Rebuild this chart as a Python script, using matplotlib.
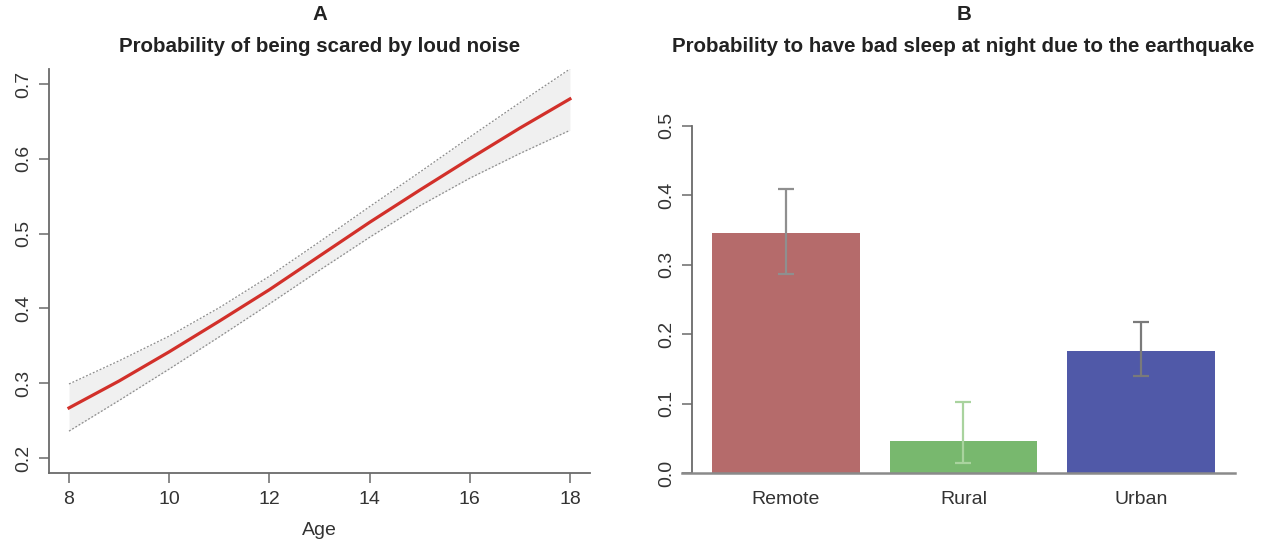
import numpy as np
import matplotlib
matplotlib.use("Agg")
import matplotlib.pyplot as plt

plt.rcParams['font.family'] = ['Liberation Sans', 'DejaVu Sans']

# panel A: predicted probability by age, with confidence band
ages = [8, 9, 10, 11, 12, 13, 14, 15, 16, 17, 18]
fit = [0.267, 0.303, 0.342, 0.383, 0.425, 0.470, 0.515, 0.558, 0.600, 0.641, 0.680]
upper = [0.299, 0.330, 0.363, 0.401, 0.443, 0.489, 0.536, 0.582, 0.629, 0.675, 0.720]
lower = [0.236, 0.277, 0.319, 0.362, 0.406, 0.451, 0.495, 0.537, 0.574, 0.607, 0.638]

# panel B: probability by area
areas = ["Remote", "Rural", "Urban"]
probs = [0.346, 0.0455, 0.176]
err_hi = [0.409, 0.103, 0.218]
err_lo = [0.286, 0.0144, 0.140]
bar_colors = ["#b56b6b", "#78b86e", "#5059a8"]
err_colors = ["#8f8f8f", "#a9d39e", "#7a7a7a"]

axis_col = "#6a6a6a"
title_kw = dict(ha="center", va="center", fontsize=14.8, fontweight="bold", color="#222222")
fig = plt.figure(figsize=(12.72, 5.45), dpi=100)

# ---- A ----
ax1 = fig.add_axes([0.0385, 0.1321, 0.4253, 0.7413])
ax1.fill_between(ages, lower, upper, color="#f0f0f0", lw=0)
ax1.plot(ages, upper, color="#8c8c8c", lw=0.9, ls=(0, (1.5, 1.5)))
ax1.plot(ages, lower, color="#8c8c8c", lw=0.9, ls=(0, (1.5, 1.5)))
ax1.plot(ages, fit, color="#d2302a", lw=2.3)
ax1.set_xlim(7.6, 18.4)
ax1.set_ylim(0.18, 0.72)
ax1.set_xticks([8, 10, 12, 14, 16, 18])
ax1.set_yticks([0.2, 0.3, 0.4, 0.5, 0.6, 0.7])
ax1.set_yticklabels(["0.2", "0.3", "0.4", "0.5", "0.6", "0.7"], rotation=90, va="center")
ax1.set_xlabel("Age", fontsize=14, color="#333333", labelpad=10)
for s in ["top", "right"]:
    ax1.spines[s].set_visible(False)
for s in ["left", "bottom"]:
    ax1.spines[s].set_color(axis_col)
    ax1.spines[s].set_linewidth(1.3)
ax1.tick_params(colors=axis_col, labelcolor="#333333", labelsize=14, length=7, width=1.1)
ax1.tick_params(axis="x", pad=6)
ax1.tick_params(axis="y", pad=5)
fig.text(319.5 / 1272, 1 - 14 / 545, "A", **title_kw)
fig.text(319.5 / 1272, 1 - 46 / 545, "Probability of being scared by loud noise", **title_kw)

# ---- B ----
ax2 = fig.add_axes([0.544, 0.1321, 0.4269, 0.7413])
xpos = np.array([0.7, 1.9, 3.1])
ax2.bar(xpos, probs, width=1.0, color=bar_colors, edgecolor="none")
for i in range(len(areas)):
    ax2.errorbar(xpos[i], probs[i],
                 yerr=[[probs[i] - err_lo[i]], [err_hi[i] - probs[i]]],
                 fmt="none", ecolor=err_colors[i], elinewidth=1.6, capsize=6, capthick=1.6)
ax2.set_xlim(0.064, 3.736)
ax2.set_ylim(0, 0.582)
ax2.set_xticks(xpos)
ax2.set_xticklabels(areas)
ax2.set_yticks([0.0, 0.1, 0.2, 0.3, 0.4, 0.5])
ax2.set_yticklabels(["0.0", "0.1", "0.2", "0.3", "0.4", "0.5"], rotation=90, va="center")
for s in ["top", "right", "bottom"]:
    ax2.spines[s].set_visible(False)
ax2.axhline(0, xmin=-0.018, xmax=1, color="#8a8a8a", lw=1.8, clip_on=False, zorder=3)
ax2.spines["left"].set_bounds(0, 0.5)
ax2.spines["left"].set_color(axis_col)
ax2.spines["left"].set_linewidth(1.3)
ax2.tick_params(colors=axis_col, labelcolor="#333333", labelsize=14, length=7, width=1.1)
ax2.tick_params(axis="x", length=0, pad=13)
ax2.tick_params(axis="y", pad=5)
fig.text(963.5 / 1272, 1 - 14 / 545, "B", **title_kw)
fig.text(963.5 / 1272, 1 - 46 / 545,
         "Probability to have bad sleep at night due to the earthquake", **title_kw)

fig.savefig("out.png", dpi=100)
